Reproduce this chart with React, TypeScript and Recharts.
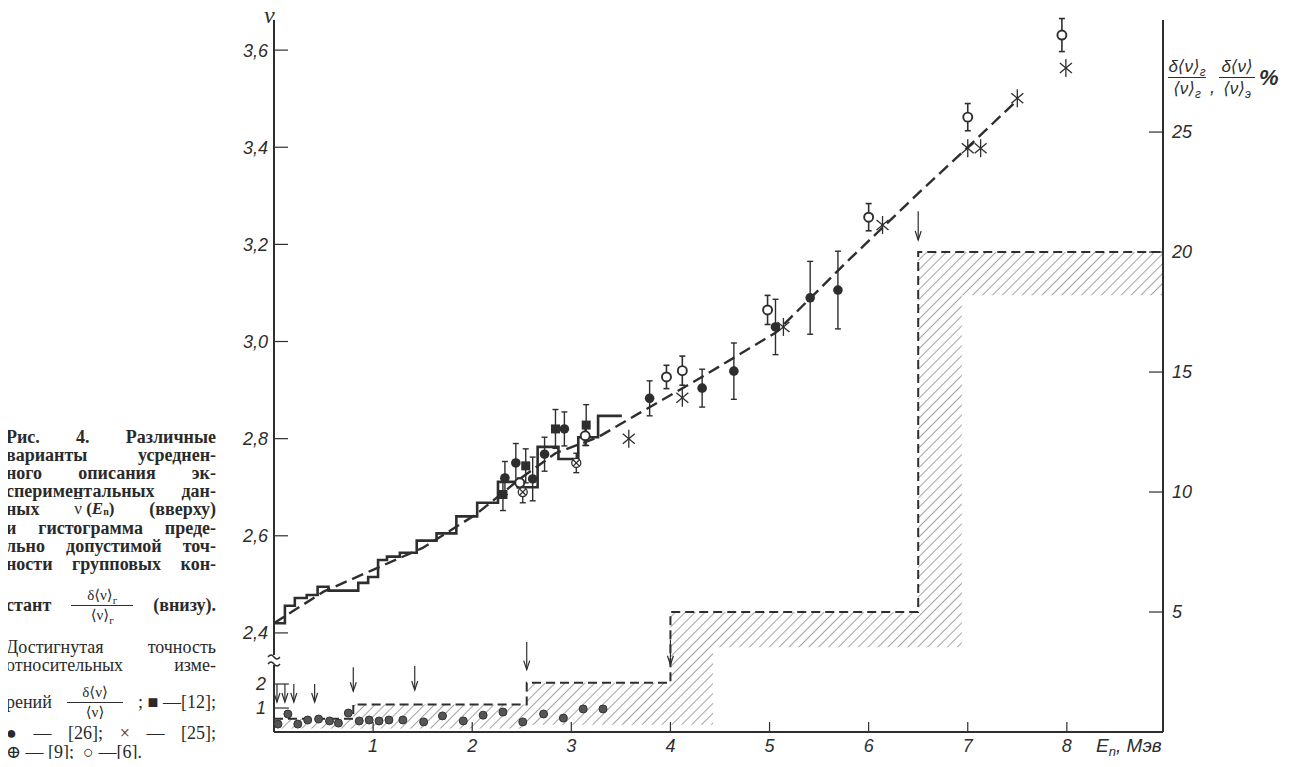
import React from 'react'
import {
  Area,
  ComposedChart,
  ErrorBar,
  Line,
  ReferenceDot,
  ReferenceLine,
  Scatter,
  XAxis,
  YAxis,
} from 'recharts'

const INK = '#2e2e2e'
const SANS = '"Liberation Sans", "DejaVu Sans", sans-serif'
const SERIF = '"Liberation Serif", "DejaVu Serif", serif'

const xTicks = [1, 2, 3, 4, 5, 6, 7, 8]
const nuTicks = [2.4, 2.6, 2.8, 3.0, 3.2, 3.4, 3.6]
const pctTicks = [5, 10, 15, 20, 25]
const lowTicks = [1, 2]

// group-averaged nu (solid steps)
const stepE = [0, 0.11, 0.21, 0.33, 0.44, 0.55, 0.85, 0.95, 1.05, 1.14, 1.27, 1.44, 1.64, 1.84, 2.05, 2.26, 2.46, 2.66, 2.87, 3.07, 3.27, 3.51]
const stepNu = [2.42, 2.456, 2.472, 2.478, 2.495, 2.487, 2.503, 2.515, 2.55, 2.557, 2.565, 2.59, 2.605, 2.64, 2.668, 2.711, 2.7, 2.783, 2.758, 2.803, 2.847, 2.847]

// smooth description (dashed)
const fitE = [0, 0.5, 1.0, 1.5, 2.03, 2.5, 2.84, 3.27, 3.69, 4.3, 5.06, 5.8, 6.5, 7.0, 7.5]
const fitNu = [2.42, 2.485, 2.53, 2.575, 2.643, 2.72, 2.77, 2.803, 2.853, 2.925, 3.018, 3.168, 3.305, 3.4, 3.497]

// ■ [12]
const sqE = [2.31, 2.54, 2.84, 3.15]
const sqNu = [2.685, 2.744, 2.82, 2.828]
const sqErr = [0.033, 0.035, 0.04, 0.042]

// ● [26]
const dotE = [2.33, 2.44, 2.61, 2.73, 2.93, 3.79, 4.32, 4.64, 5.06, 5.41, 5.69]
const dotNu = [2.719, 2.75, 2.717, 2.768, 2.82, 2.883, 2.904, 2.939, 3.03, 3.09, 3.106]
const dotErr = [0.034, 0.04, 0.045, 0.035, 0.035, 0.036, 0.039, 0.058, 0.057, 0.075, 0.08]

// × [25]
const starE = [3.58, 4.12, 5.14, 6.14, 7.0, 7.13, 7.5, 7.99]
const starNu = [2.8, 2.884, 3.03, 3.24, 3.398, 3.398, 3.501, 3.563]

// ⊕ [9]
const crossE = [2.51, 3.05]
const crossNu = [2.69, 2.75]
const crossErr = [0.022, 0.02]

// ○ [6]
const ringE = [2.48, 3.14, 3.96, 4.12, 4.98, 6.0, 7.0, 7.95]
const ringNu = [2.709, 2.806, 2.927, 2.94, 3.065, 3.256, 3.462, 3.631]
const ringErr = [0.01, 0.02, 0.024, 0.03, 0.03, 0.028, 0.028, 0.034]

// achieved accuracy of relative measurements, %
const accE = [0.04, 0.14, 0.24, 0.34, 0.45, 0.56, 0.65, 0.75, 0.86, 0.96, 1.06, 1.16, 1.3, 1.51, 1.7, 1.91, 2.11, 2.31, 2.51, 2.72, 2.92, 3.12, 3.32]
const accPct = [0.33, 0.75, 0.33, 0.5, 0.54, 0.46, 0.37, 0.79, 0.46, 0.5, 0.46, 0.5, 0.5, 0.42, 0.67, 0.46, 0.7, 0.83, 0.42, 0.75, 0.58, 0.96, 0.96]

// tolerated accuracy of group constants, % (histogram + hatched band)
const groupE = [0, 0.8, 2.55, 4.0, 4.43, 6.5, 6.94, 8.97]
const groupTop = [0.55, 1.15, 2.05, 5, 5, 20, 20, 20]
const groupLow = [0.15, 0.15, 0.3, 0.3, 3.53, 3.53, 18.2, 18.2]

// group boundaries (arrows), %
const arrowE = [0.03, 0.11, 0.2, 0.41, 0.8, 1.42, 2.55, 4.0, 6.5]
const arrowFrom = [2.0, 2.0, 2.0, 2.0, 2.7, 2.75, 3.75, 3.85, 21.7]
const arrowTo = [1.25, 1.25, 1.25, 1.25, 1.7, 1.75, 2.6, 2.8, 20.5]

const stepRows = stepE.map((E, i) => ({ E, nu: stepNu[i] }))
const fitRows = fitE.map((E, i) => ({ E, nu: fitNu[i] }))
const pts = (xs: number[], ys: number[], es?: number[]) =>
  xs.map((E, i) => ({ E, nu: ys[i], err: es ? es[i] : 0 }))
const accRows = accE.map((E, i) => ({ E, pct: accPct[i] }))
const groupRows = groupE.map((E, i) => ({ E, top: groupTop[i], band: [groupLow[i], groupTop[i]] }))

const tickFont = { fontSize: 18, fontStyle: 'italic', fill: INK, fontFamily: SANS }
const comma = (v: number) => v.toFixed(1).replace('.', ',')

const Square = ({ cx, cy }: any) => <rect x={cx - 4.5} y={cy - 4.5} width={9} height={9} fill={INK} />
const Dot = ({ cx, cy }: any) => <circle cx={cx} cy={cy} r={4.8} fill={INK} />
const Ring = ({ cx, cy }: any) => (
  <circle cx={cx} cy={cy} r={4.5} fill="#fff" stroke={INK} strokeWidth={1.9} />
)
const Crossed = ({ cx, cy }: any) => (
  <g stroke={INK} strokeWidth={1.3}>
    <circle cx={cx} cy={cy} r={4.5} fill="#fff" />
    <line x1={cx - 3.2} y1={cy - 3.2} x2={cx + 3.2} y2={cy + 3.2} />
    <line x1={cx - 3.2} y1={cy + 3.2} x2={cx + 3.2} y2={cy - 3.2} />
  </g>
)
const Star = ({ cx, cy }: any) => (
  <g stroke={INK} strokeWidth={1.3}>
    <line x1={cx} y1={cy - 9} x2={cx} y2={cy + 9} />
    <line x1={cx - 6} y1={cy - 5} x2={cx + 6} y2={cy + 5} />
    <line x1={cx - 6} y1={cy + 5} x2={cx + 6} y2={cy - 5} />
  </g>
)
const LowDot = ({ cx, cy }: any) => <circle cx={cx} cy={cy} r={4} fill="#555" stroke="#333" strokeWidth={1} />

const Arrow = ({ x1, y1, x2, y2 }: any) => (
  <g stroke={INK} strokeWidth={1.2} fill="none">
    <line x1={x1} y1={y1} x2={x2} y2={y2} />
    <path d={`M${x2 - 3} ${y2 - 9} L${x2} ${y2} L${x2 + 3} ${y2 - 9}`} />
  </g>
)

const AxisBreak = ({ cx, cy }: any) => (
  <g>
    <rect x={cx - 6} y={cy - 5} width={12} height={10} fill="#fff" />
    <path d={`M${cx - 6} ${cy - 3} q3 -4 6 0 t6 0`} stroke={INK} strokeWidth={1.4} fill="none" />
    <path d={`M${cx - 6} ${cy + 4} q3 -4 6 0 t6 0`} stroke={INK} strokeWidth={1.4} fill="none" />
  </g>
)

const Frac = ({ num, den, w, size }: any) => (
  <span
    style={{
      display: 'inline-flex',
      flexDirection: 'column',
      alignItems: 'center',
      verticalAlign: 'middle',
      fontSize: size,
      lineHeight: `${size + 4}px`,
    }}
  >
    <span>{num}</span>
    <span style={{ width: w, borderTop: `1.5px solid ${INK}` }} />
    <span>{den}</span>
  </span>
)

const Low = ({ children, size, drop = 4 }: any) => (
  <span style={{ fontSize: size, position: 'relative', top: drop, lineHeight: '10px' }}>{children}</span>
)

const captionBold = [
  { y: 437, t: 'Рис. 4. Различные' },
  { y: 455, t: 'варианты усреднен-' },
  { y: 473, t: 'ного описания эк-' },
  { y: 491, t: 'спериментальных дан-' },
  { y: 528, t: 'и гистограмма преде-' },
  { y: 546, t: 'льно допустимой точ-' },
  { y: 564, t: 'ности групповых кон-' },
]
const captionPlain = [
  { y: 647, t: 'Достигнутая точность' },
  { y: 665, t: 'относительных изме-' },
  { y: 733, t: '● — [26]; × — [25];' },
]

const lineStyle = (y: number, bold: boolean): React.CSSProperties => ({
  position: 'absolute',
  left: 6,
  top: y - 8,
  width: 210,
  height: 16,
  lineHeight: '16px',
  display: 'flex',
  alignItems: 'center',
  justifyContent: 'space-between',
  whiteSpace: 'pre',
  fontFamily: SERIF,
  fontSize: 18,
  fontWeight: bold ? 'bold' : 'normal',
  color: '#2a2a2a',
})

const Justified = ({ y, t, bold }: any) => (
  <div style={lineStyle(y, bold)}>
    {t.split(/\s+/).map((w: string, i: number) => (
      <span key={i}>{w}</span>
    ))}
  </div>
)

export default function App() {
  return (
    <div
      style={{
        position: 'relative',
        width: 1291,
        height: 767,
        margin: -8,
        background: '#fff',
        overflow: 'hidden',
      }}
    >
      <ComposedChart width={1291} height={767} margin={{ top: 20, right: 68, bottom: 0, left: 234 }}>
        <defs>
          <pattern id="hatch" width="7" height="7" patternUnits="userSpaceOnUse" patternTransform="rotate(45)">
            <line x1="0" y1="0" x2="0" y2="7" stroke="#555" strokeWidth="1.1" />
          </pattern>
        </defs>
        <XAxis
          type="number"
          dataKey="E"
          domain={[0, 8.97]}
          ticks={xTicks}
          interval={0}
          allowDataOverflow
          height={35}
          tickSize={-10}
          tickMargin={17}
          axisLine={{ stroke: INK, strokeWidth: 2 }}
          tickLine={{ stroke: INK, strokeWidth: 1.2 }}
          tick={tickFont}
        />
        <YAxis
          yAxisId="nu"
          orientation="left"
          width={40}
          domain={[2.196, 3.662]}
          ticks={nuTicks}
          interval={0}
          allowDataOverflow
          tickSize={-14}
          tickMargin={20}
          tickFormatter={comma}
          axisLine={{ stroke: INK, strokeWidth: 2 }}
          tickLine={{ stroke: INK, strokeWidth: 1.2 }}
          tick={tickFont}
        />
        <YAxis
          yAxisId="pct"
          orientation="right"
          width={60}
          domain={[0, 29.67]}
          ticks={pctTicks}
          interval={0}
          allowDataOverflow
          tickSize={-14}
          tickMargin={23}
          axisLine={{ stroke: INK, strokeWidth: 2 }}
          tickLine={{ stroke: INK, strokeWidth: 1.2 }}
          tick={tickFont}
        />

        <Area
          yAxisId="pct"
          data={groupRows}
          dataKey="band"
          type="stepAfter"
          fill="url(#hatch)"
          fillOpacity={1}
          stroke="none"
          isAnimationActive={false}
        />
        <Line
          yAxisId="pct"
          data={groupRows}
          dataKey="top"
          type="stepAfter"
          stroke={INK}
          strokeWidth={2}
          strokeDasharray="9 5"
          dot={false}
          isAnimationActive={false}
        />
        {arrowE.map((E, i) => (
          <ReferenceLine
            key={`ar${i}`}
            yAxisId="pct"
            segment={[
              { x: E, y: arrowFrom[i] },
              { x: E, y: arrowTo[i] },
            ]}
            shape={Arrow}
          />
        ))}
        {/* lower-left percent ticks below the axis break */}
        {lowTicks.map((v) => (
          <ReferenceLine
            key={`lt${v}`}
            yAxisId="pct"
            segment={[
              { x: 0, y: v },
              { x: 0.15, y: v },
            ]}
            stroke={INK}
            strokeWidth={1.2}
            label={{ value: String(v), position: 'left', offset: 8, ...tickFont }}
          />
        ))}
        <Scatter yAxisId="pct" data={accRows} dataKey="pct" shape={LowDot} isAnimationActive={false} />

        <Line
          yAxisId="nu"
          data={fitRows}
          dataKey="nu"
          type="linear"
          stroke={INK}
          strokeWidth={2.4}
          strokeDasharray="12 6"
          dot={false}
          isAnimationActive={false}
        />
        <Line
          yAxisId="nu"
          data={stepRows}
          dataKey="nu"
          type="stepAfter"
          stroke={INK}
          strokeWidth={2.6}
          dot={false}
          isAnimationActive={false}
        />

        <Scatter yAxisId="nu" data={pts(sqE, sqNu, sqErr)} dataKey="nu" shape={Square} isAnimationActive={false}>
          <ErrorBar dataKey="err" direction="y" width={3} stroke={INK} strokeWidth={1.4} />
        </Scatter>
        <Scatter yAxisId="nu" data={pts(dotE, dotNu, dotErr)} dataKey="nu" shape={Dot} isAnimationActive={false}>
          <ErrorBar dataKey="err" direction="y" width={3} stroke={INK} strokeWidth={1.4} />
        </Scatter>
        <Scatter yAxisId="nu" data={pts(crossE, crossNu, crossErr)} dataKey="nu" shape={Crossed} isAnimationActive={false}>
          <ErrorBar dataKey="err" direction="y" width={3} stroke={INK} strokeWidth={1.4} />
        </Scatter>
        <Scatter yAxisId="nu" data={pts(ringE, ringNu, ringErr)} dataKey="nu" shape={Ring} isAnimationActive={false}>
          <ErrorBar dataKey="err" direction="y" width={3} stroke={INK} strokeWidth={1.6} />
        </Scatter>
        <Scatter yAxisId="nu" data={pts(starE, starNu)} dataKey="nu" shape={Star} isAnimationActive={false} />

        <ReferenceDot yAxisId="pct" x={0} y={3} shape={AxisBreak} ifOverflow="visible" />
      </ComposedChart>

      {/* axis titles */}
      <div style={{ position: 'absolute', left: 264, top: 4, fontFamily: SERIF, fontStyle: 'italic', fontSize: 24, lineHeight: '22px', color: INK }}>
        <span style={{ borderTop: `1.6px solid ${INK}`, display: 'inline-block', lineHeight: '20px' }}>ν</span>
      </div>
      <div
        style={{
          position: 'absolute',
          left: 1168,
          top: 56,
          display: 'flex',
          alignItems: 'center',
          gap: 4,
          fontFamily: SANS,
          fontStyle: 'italic',
          color: INK,
        }}
      >
        <Frac size={17} w={38} num={<>δ⟨ν⟩<Low size={12}>г</Low></>} den={<>⟨ν⟩<Low size={12}>г</Low></>} />
        <span style={{ fontSize: 18, marginTop: 20 }}>,</span>
        <Frac size={17} w={36} num={<>δ⟨ν⟩</>} den={<>⟨ν⟩<Low size={12}>э</Low></>} />
        <span style={{ fontSize: 22, fontWeight: 'bold' }}>%</span>
      </div>
      <div style={{ position: 'absolute', left: 1096, top: 735, fontFamily: SANS, fontStyle: 'italic', fontSize: 19, color: INK }}>
        E<Low size={13}>n</Low>, Мэв
      </div>

      {/* caption */}
      {captionBold.map((l) => (
        <Justified key={l.y} y={l.y} t={l.t} bold />
      ))}
      <div style={lineStyle(509, true)}>
        <span>ных</span>
        <span style={{ fontSize: 17 }}>
          <span style={{ textDecoration: 'overline', fontWeight: 'normal' }}>ν</span> (<i>E</i>
          <Low size={10} drop={1}>n</Low>)
        </span>
        <span>(вверху)</span>
      </div>
      <div style={{ ...lineStyle(605, true), height: 56, top: 577 }}>
        <span>стант</span>
        <Frac
          size={15}
          w={62}
          num={<span style={{ fontWeight: 'normal' }}>δ⟨ν⟩<Low size={11}>г</Low></span>}
          den={<span style={{ fontWeight: 'normal' }}>⟨ν⟩<Low size={11}>г</Low></span>}
        />
        <span>(внизу).</span>
      </div>
      {captionPlain.map((l) => (
        <Justified key={l.y} y={l.y} t={l.t} />
      ))}
      <div style={{ ...lineStyle(702, false), height: 46, top: 679 }}>
        <span>рений</span>
        <Frac size={15} w={56} num="δ⟨ν⟩" den="⟨ν⟩" />
        <span>; ■ —[12];</span>
      </div>
      <div style={{ ...lineStyle(752, false), justifyContent: 'flex-start', width: 200 }}>
        <span>⊕ — [9];  ○ —[6].</span>
      </div>
    </div>
  )
}
